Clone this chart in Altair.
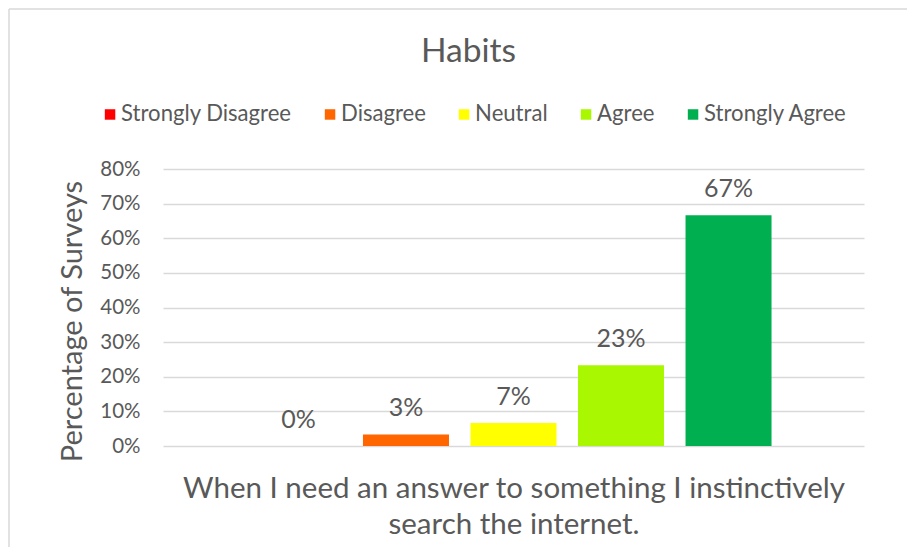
import altair as alt
import pandas as pd

categories = ["Strongly Disagree", "Disagree", "Neutral", "Agree", "Strongly Agree"]
values = [0.0, 0.0333, 0.0667, 0.2333, 0.6667]
colors = ["#FF0000", "#FF6600", "#FFFF00", "#A9F700", "#00B050"]
y_ticks = [0, 0.1, 0.2, 0.3, 0.4, 0.5, 0.6, 0.7, 0.8]
question = ["When I need an answer to something I instinctively", "search the internet."]

df = pd.DataFrame({"Response": categories, "Value": values})

FONT = "Lato"
GRAY = "#595959"
BORDER = "#D9D9D9"

x_enc = alt.X(
    "Response:N",
    sort=categories,
    scale=alt.Scale(paddingInner=0.2, paddingOuter=0.86),
    axis=alt.Axis(
        title=question,
        labels=False,
        ticks=False,
        domain=False,
        titleFont=FONT,
        titleFontSize=29.5,
        titleFontWeight="normal",
        titleColor=GRAY,
        titleLineHeight=36,
        titlePadding=28,
    ),
)

y_enc = alt.Y(
    "Value:Q",
    scale=alt.Scale(domain=[0, 0.8], nice=False),
    axis=alt.Axis(
        values=y_ticks,
        format=".0%",
        title="Percentage of Surveys",
        ticks=False,
        domain=False,
        grid=True,
        gridColor=BORDER,
        gridWidth=1.5,
        labelOverlap=False,
        labelFont=FONT,
        labelFontSize=20.5,
        labelColor=GRAY,
        labelPadding=23,
        titleFont=FONT,
        titleFontSize=29,
        titleFontWeight="normal",
        titleColor=GRAY,
        titleAngle=-90,
        titleX=-91,
        titleY=152,
        titleAlign="center",
        titleBaseline="middle",
    ),
)

base = alt.Chart(df).encode(x=x_enc, y=y_enc)

bars = base.mark_bar().encode(
    color=alt.Color(
        "Response:N",
        sort=categories,
        scale=alt.Scale(domain=categories, range=colors),
        legend=alt.Legend(
            title=None,
            orient="none",
            legendX=-64,
            legendY=-66,
            direction="horizontal",
            columns=5,
            columnPadding=27,
            symbolType="square",
            symbolSize=110,
            symbolStrokeWidth=0,
            labelFont=FONT,
            labelFontSize=22.1,
            labelColor=GRAY,
            labelOffset=0,
            labelLimit=400,
            padding=0,
        ),
    ),
)

labels = base.mark_text(
    baseline="bottom", dy=-13, font=FONT, fontSize=25, color=GRAY
).encode(
    text=alt.Text("Value:Q", format=".0%"),
)

one_row = alt.Chart(df).transform_filter(alt.datum.Response == "Agree")
frame_top = one_row.mark_rule(stroke=BORDER, strokeWidth=1.5).encode(
    x=alt.value(-154), x2=alt.value(744), y=alt.value(-160)
)
frame_left = one_row.mark_rule(stroke=BORDER, strokeWidth=1.5).encode(
    x=alt.value(-154), y=alt.value(-160), y2=alt.value(378)
)

chart = alt.layer(frame_top, frame_left, bars, labels).properties(
    width=701,
    height=277,
    autosize=alt.AutoSizeParams(type="none"),
    padding={"left": 155, "top": 161, "right": 43, "bottom": 101},
    background="white",
    title=alt.TitleParams(
        "Habits",
        font=FONT,
        fontSize=33.5,
        fontWeight="normal",
        color=GRAY,
        anchor="middle",
        dx=-45,
        dy=61,
        offset=0,
    ),
).configure_view(stroke=None)

chart.save("out.html", embed_options={"renderer": "svg", "actions": False})
